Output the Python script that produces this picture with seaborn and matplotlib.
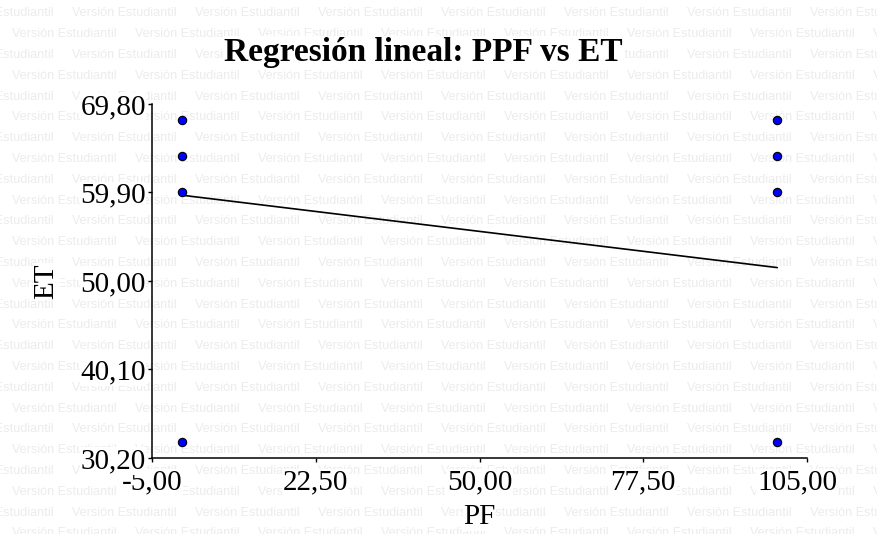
import matplotlib
matplotlib.use("Agg")
import matplotlib.pyplot as plt
import matplotlib.transforms as mtransforms
import seaborn as sns
import pandas as pd
from matplotlib.ticker import FixedLocator, FuncFormatter

# data
pf = [0, 0, 0, 0, 100, 100, 100, 100]
et = [68.0, 64.0, 60.0, 32.0, 68.0, 64.0, 60.0, 32.0]

# fitted regression line (endpoints)
fit_pf = [0, 100]
fit_et = [59.6, 51.5]

x_ticks = [-5.0, 22.5, 50.0, 77.5, 105.0]
y_ticks = [30.2, 40.1, 50.0, 59.9, 69.8]

title = "Regresión lineal: PPF vs ET"
watermark = "Versión Estudiantil"

sns.set_style("white")
plt.rcParams["font.family"] = ["Liberation Serif", "DejaVu Serif"]
plt.rcParams["text.color"] = "black"
plt.rcParams["axes.labelcolor"] = "black"
plt.rcParams["xtick.color"] = "black"
plt.rcParams["ytick.color"] = "black"

W, H = 877, 534
fig = plt.figure(figsize=(W / 100, H / 100), dpi=100)

# student-version watermark over the whole background
for k in range(27):
    y = 13.5 + 20.8 * k
    x0 = 72 if k % 2 == 0 else 12
    for j in range(-1, 8):
        fig.text((x0 + 123 * j) / W, 1 - y / H, watermark, fontsize=9.1,
                 family="Liberation Sans", color="#ececec",
                 ha="left", va="center", zorder=-5)

ax = fig.add_axes([152 / W, 1 - 458 / H, (807 - 152) / W, (458 - 104) / H])
ax.set_facecolor("none")
ax.set_zorder(1)

df = pd.DataFrame({"PF": pf, "ET": et})
fit = pd.DataFrame({"PF": fit_pf, "ET": fit_et})

sns.lineplot(data=fit, x="PF", y="ET", color="black", linewidth=1.2, ax=ax)
sns.scatterplot(data=df, x="PF", y="ET", color="#0000ff", edgecolor="black",
                linewidth=0.8, s=36, ax=ax, zorder=3)

ax.set_xlim(x_ticks[0], x_ticks[-1])
ax.set_ylim(y_ticks[0], y_ticks[-1])
ax.xaxis.set_major_locator(FixedLocator(x_ticks))
ax.yaxis.set_major_locator(FixedLocator(y_ticks))
fmt = FuncFormatter(lambda v, p: f"{v:.2f}".replace(".", ","))
ax.xaxis.set_major_formatter(fmt)
ax.yaxis.set_major_formatter(fmt)

for side in ["top", "right"]:
    ax.spines[side].set_visible(False)
for side in ["left", "bottom"]:
    ax.spines[side].set_color("black")
    ax.spines[side].set_linewidth(1.1)

ax.tick_params(axis="x", direction="out", length=3, width=1, pad=5.5,
               labelsize=21, bottom=True)
ax.tick_params(axis="y", direction="out", length=3, width=1, pad=1.5,
               labelsize=21, left=True)

box = dict(facecolor="white", edgecolor="none", pad=0.5)
for lab in ax.get_xticklabels() + ax.get_yticklabels():
    lab.set_bbox(box)

# the last x label sits a little left of its tick in the original
last = ax.get_xticklabels()[-1]
last.set_transform(last.get_transform() +
                   mtransforms.ScaledTranslation(-10 / 100, 0, fig.dpi_scale_trans))

ax.set_xlabel("PF", fontsize=21, labelpad=6, bbox=box)
ax.set_ylabel("ET", fontsize=21, labelpad=15, bbox=box)

fig.text(423.5 / W, 1 - 53 / H, title, fontsize=24, fontweight="bold",
         ha="center", va="center", bbox=dict(facecolor="white", edgecolor="none", pad=1),
         zorder=5)

fig.savefig("out.png", dpi=100)
plt.close(fig)
